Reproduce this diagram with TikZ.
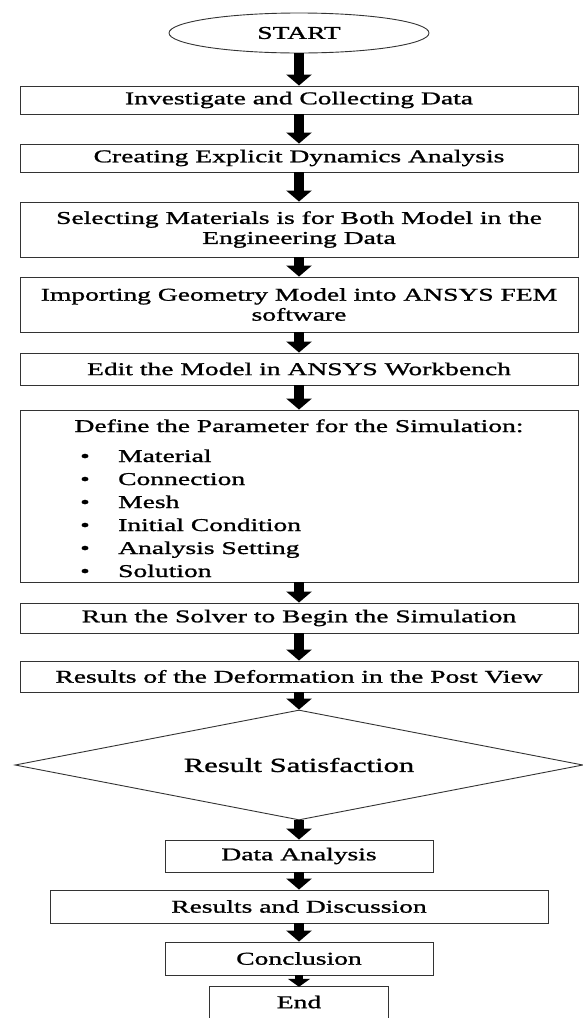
\documentclass[tikz,border=0pt]{standalone}
\usepackage{fontspec}
\setmainfont{Liberation Serif}[FakeStretch=1.53, RawFeature={embolden=1.2}]
\usetikzlibrary{arrows.meta,shapes.geometric}
\begin{document}
\begin{tikzpicture}[x=1pt,y=-1pt,
  boxline/.style={draw=black!80, line width=0.9pt},
  box/.style={boxline, rectangle, inner sep=0pt, align=center, font=\fontsize{18}{20}\selectfont},
  wide/.style={box, minimum width=558pt},
  small/.style={box, minimum width=268pt},
  txt/.style={inner sep=0pt, font=\fontsize{18}{20}\selectfont},
  flow/.style={line width=10pt, black, -{Triangle[width=25pt,length=11pt]}},
  flowsmall/.style={line width=8pt, black, -{Triangle[width=22pt,length=8pt]}},
]
\useasboundingbox (0,0) rectangle (583,1018);
\node[ellipse, boxline, minimum width=260pt, minimum height=40pt, inner sep=0pt, font=\fontsize{18}{20}\selectfont] (start) at (299,33) {START};
\node[wide, minimum height=28pt] (b1) at (299,100) {Investigate and Collecting Data};
\node[wide, minimum height=28pt] (b2) at (299,158) {Creating Explicit Dynamics Analysis};
\node[wide, minimum height=55pt] (b3) at (299,229.5) {Selecting Materials is for Both Model in the\\Engineering Data};
\node[wide, minimum height=55pt] (b4) at (299,304.5) {Importing Geometry Model into ANSYS FEM\\software};
\node[wide, minimum height=32pt] (b5) at (299,369) {Edit the Model in ANSYS Workbench};
\node[wide, minimum height=172pt] (b6) at (299,496) {};
\node[txt, anchor=base] (b6t) at (299,432) {Define the Parameter for the Simulation:};
\foreach \i/\lbl in {0/Material,1/Connection,2/Mesh,3/Initial Condition,4/Analysis Setting,5/Solution} {
  \node[txt, anchor=base] (bul\i) at (85,{462+23*\i}) {\textbullet};
  \node[txt, anchor=base west] (item\i) at (118,{462+23*\i}) {\lbl};
}
\node[wide, minimum height=30pt] (b7) at (299,618) {Run the Solver to Begin the Simulation};
\node[wide, minimum height=31pt] (b8) at (299,676.5) {Results of the Deformation in the Post View};
\node[diamond, aspect=5.164, boxline, minimum width=568pt, minimum height=110pt, inner sep=0pt, font=\fontsize{20}{22}\selectfont] (dec) at (299,765) {Result Satisfaction};
\node[small, minimum height=32pt] (da) at (299,856) {Data Analysis};
\node[box, minimum width=498pt, minimum height=33pt] (rd) at (299,906.5) {Results and Discussion};
\node[small, minimum height=33pt] (con) at (299,958.5) {Conclusion};
\node[txt, minimum width=179pt, minimum height=30pt] (end) at (299,1002) {End};
\draw[boxline] ([yshift=-20pt]end.south west) -- (end.north west) -- (end.north east) -- ([yshift=-20pt]end.south east);
\draw[flow] (start.south) -- (b1.north);
\draw[flow] (b1.south) -- (b2.north);
\draw[flow] (b2.south) -- (b3.north);
\draw[flow] (b3.south) -- (b4.north);
\draw[flow] (b4.south) -- (b5.north);
\draw[flow] (b5.south) -- (b6.north);
\draw[flow] (b6.south) -- (b7.north);
\draw[flow] (b7.south) -- (b8.north);
\draw[flow] (b8.south) -- (dec.north);
\draw[flow] (dec.south) -- (da.north);
\draw[flow] (da.south) -- (rd.north);
\draw[flow] (rd.south) -- (con.north);
\draw[flowsmall] (con.south) -- (end.north);
\end{tikzpicture}
\end{document}
